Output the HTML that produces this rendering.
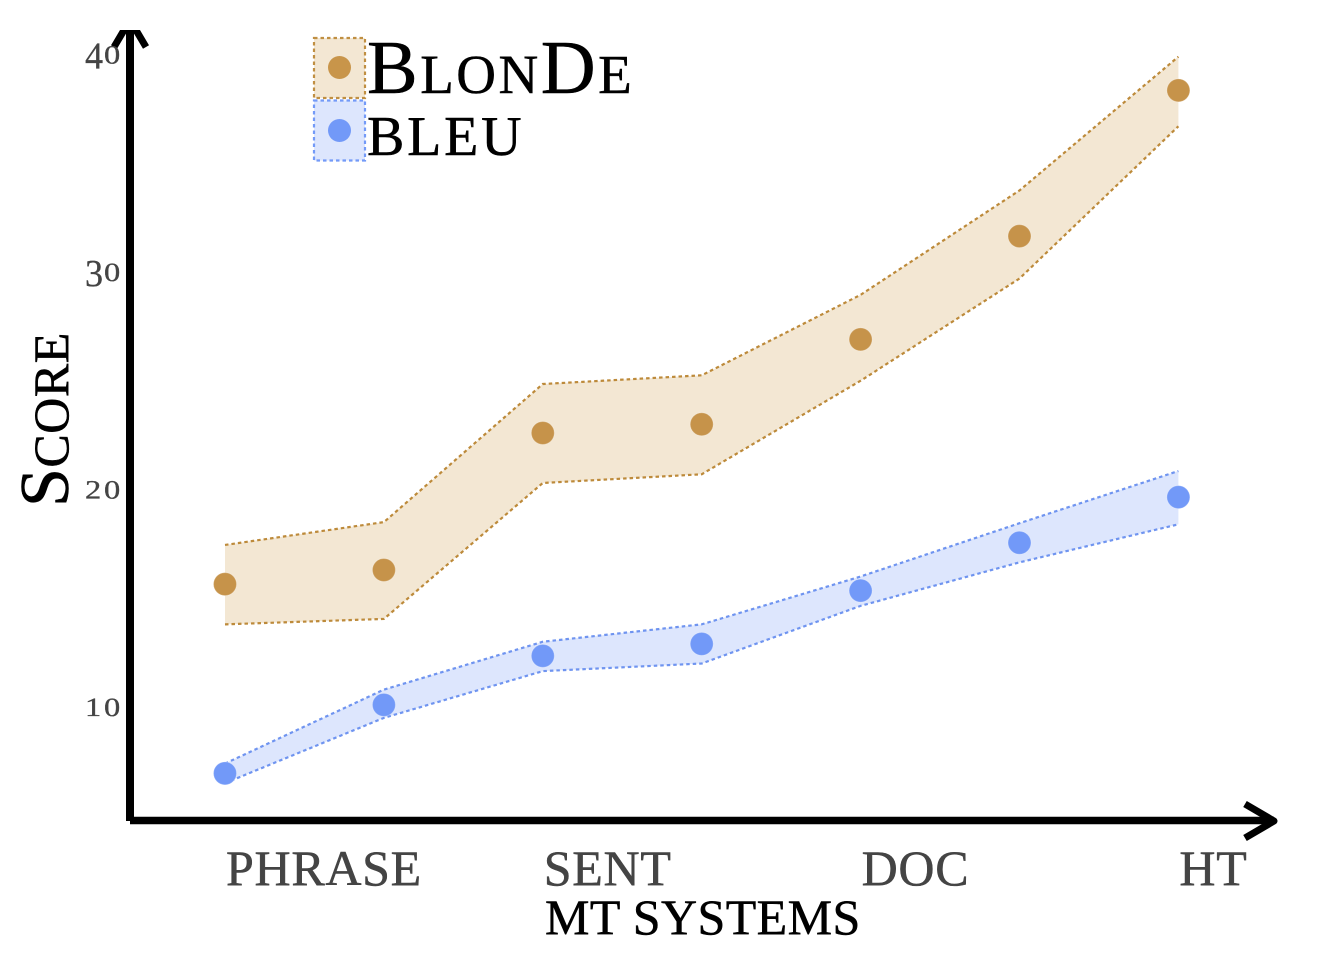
<!DOCTYPE html>
<html lang="en">
<head>
<meta charset="utf-8">
<title>Score by MT system</title>
<style>
html,body{margin:0;padding:0;background:#fff;}
svg{display:block;}
text{font-family:"Liberation Serif",serif;}
.sc{font-variant:small-caps;fill:#000;stroke:#000;stroke-width:.5;}
.xt{font-size:50px;fill:#444;stroke:#444;stroke-width:.5;letter-spacing:.7px;}
.yt{fill:#444;stroke:#444;stroke-width:.3;}
</style>
</head>
<body>
<svg id="chart" width="1320" height="960" viewBox="0 0 1320 960" xmlns="http://www.w3.org/2000/svg">
  <defs>
    <clipPath id="top-clip"><rect x="0" y="30" width="1320" height="930"/></clipPath>
  </defs>
  <g id="bands"></g>
  <g id="points"></g>
  <g id="axes" clip-path="url(#top-clip)">
    <line x1="130" y1="821" x2="130" y2="30" stroke="#000" stroke-width="8"/>
    <polyline points="114,47 130,20 146,47" fill="none" stroke="#000" stroke-width="7"/>
    <line x1="130" y1="820.5" x2="1274" y2="820.5" stroke="#000" stroke-width="7.5"/>
    <polyline points="1245,804 1274,821 1245,838" fill="none" stroke="#000" stroke-width="7" stroke-linejoin="round"/>
  </g>
  <g id="y-ticks"></g>
  <g id="x-ticks"></g>
  <text x="545" y="934" font-size="50" fill="#000" stroke="#000" stroke-width=".5" letter-spacing=".4">MT SYSTEMS</text>
  <text class="sc" transform="translate(68,507) rotate(-90)" font-size="70" letter-spacing=".5"><tspan font-size="70">S</tspan><tspan font-size="72">core</tspan></text>
  <g>
    <rect x="314" y="38" width="51" height="60" fill="#f3e7d3" stroke="#c08f42" stroke-width="2.2" stroke-dasharray="3.5 3"/>
    <circle cx="339.5" cy="67.5" r="11.5" fill="#c8954a"/>
    <rect x="314" y="100.5" width="51" height="60" fill="#dde6fd" stroke="#739af8" stroke-width="2.2" stroke-dasharray="3.5 3"/>
    <circle cx="339.5" cy="130.5" r="11.5" fill="#7299f8"/>
    <text class="sc" x="367" y="93" letter-spacing="2.5"><tspan font-size="76">B</tspan><tspan font-size="79">lon</tspan><tspan font-size="76">D</tspan><tspan font-size="79">e</tspan></text>
    <text class="sc" x="367" y="155" font-size="80" letter-spacing="2.8">bleu</text>
  </g>
</svg>
<script>
const categories = ["PHRASE", "", "SENT", "", "DOC", "", "HT"];
const blondeMean = [15.65, 16.3, 22.6, 23.0, 26.9, 31.65, 38.35];
const blondeUpper = [17.45, 18.5, 24.85, 25.25, 28.95, 33.75, 39.9];
const blondeLower = [13.8, 14.05, 20.3, 20.7, 25.0, 29.7, 36.7];
const bleuMean = [6.95, 10.1, 12.35, 12.9, 15.35, 17.55, 19.65];
const bleuUpper = [7.4, 10.8, 13.0, 13.8, 16.0, 18.45, 20.85];
const bleuLower = [6.5, 9.5, 11.65, 12.0, 14.65, 16.65, 18.4];
const yTickValues = [10, 20, 30, 40];

const NS = "http://www.w3.org/2000/svg";
function xScale(i) { return 225 + i * (1178.4 - 225) / 6; }
function yScale(v) { return 707 - (v - 10) * 21.75; }
function make(tag, attrs, parent) {
  const el = document.createElementNS(NS, tag);
  for (const k in attrs) el.setAttribute(k, attrs[k]);
  parent.appendChild(el);
  return el;
}
function linePoints(values) {
  return values.map((v, i) => xScale(i) + "," + yScale(v)).join(" ");
}

const bandsGroup = document.getElementById("bands");
const pointsGroup = document.getElementById("points");

function drawBand(upper, lower, fill, stroke, label) {
  const upperPts = upper.map((v, i) => xScale(i) + "," + yScale(v));
  const lowerPts = lower.map((v, i) => xScale(i) + "," + yScale(v)).reverse();
  const area = make("polygon", { points: upperPts.concat(lowerPts).join(" "), fill: fill }, bandsGroup);
  
  
  const up = make("polyline", { points: linePoints(upper), fill: "none", stroke: stroke, "stroke-width": 2.2, "stroke-dasharray": "3.5 3" }, bandsGroup);
  
  
  const low = make("polyline", { points: linePoints(lower), fill: "none", stroke: stroke, "stroke-width": 2.2, "stroke-dasharray": "3.5 3" }, bandsGroup);
  
  
}
function drawPoints(values, fill, label) {
  values.forEach((v, i) => {
    const c = make("circle", { cx: xScale(i), cy: yScale(v), r: 11.5, fill: fill, stroke: "#ffffff", "stroke-opacity": 0.25, "stroke-width": 1 }, pointsGroup);
    
    
  });
}
drawBand(blondeUpper, blondeLower, "#f3e7d3", "#bd8a3a", "blonde");
drawBand(bleuUpper, bleuLower, "#dde6fd", "#6f94f0", "bleu");
drawPoints(blondeMean, "#c6934a", "blonde");
drawPoints(bleuMean, "#7299f8", "bleu");

const xTicks = document.getElementById("x-ticks");
categories.forEach((name, i) => {
  if (!name) return;
  const t = make("text", { x: xScale(i) + 1, y: 885, class: "xt" }, xTicks);
  
  
  t.textContent = name;
});

const yTicks = document.getElementById("y-ticks");
yTickValues.forEach((value) => {
  const y = yScale(value);
  const digits = String(value).split("");
  const group = make("g", {}, yTicks);
  
  
  digits.forEach((d, i) => {
    const tall = d === "3" || d === "4";
    const px = i === 0 ? 85 : 104;
    const size = tall ? 38 : 26;
    const base = tall ? y + 14 : y + 9;
    const sx = tall ? 0.95 : 1.25;
    const t = make("text", { class: "yt", "font-size": size, transform: "translate(" + px + "," + base + ") scale(" + sx + ",1)" }, group);
    
    
    t.textContent = d;
  });
});
</script>
</body>
</html>
